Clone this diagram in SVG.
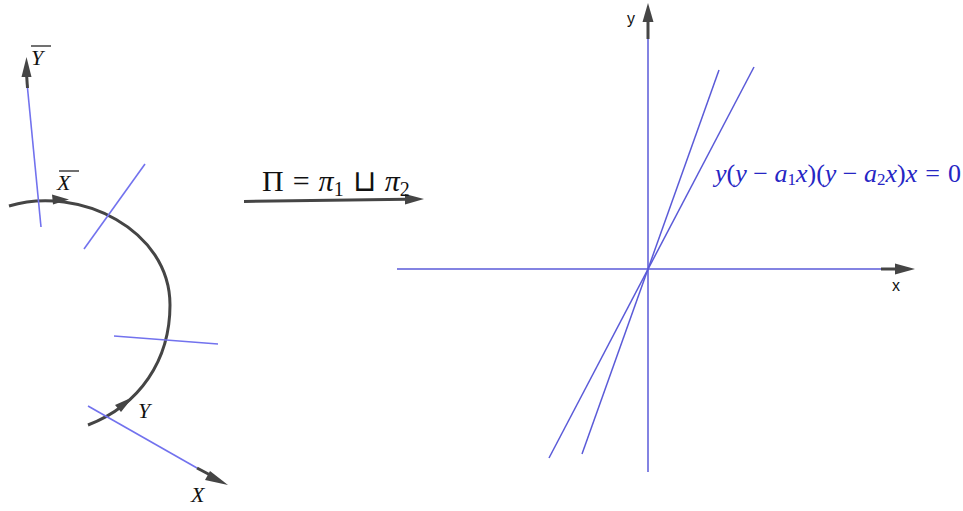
<svg xmlns="http://www.w3.org/2000/svg" width="963" height="511" viewBox="0 0 963 511">
<style>
.bl{stroke:#7272ee;stroke-width:1.6;fill:none}
.bl2{stroke:#5a5ad8;stroke-width:1.5;fill:none}
.dk{stroke:#454545;stroke-width:3;fill:none;stroke-linecap:butt}
.hd{fill:#454545}
.m{font-family:"Liberation Serif","Times New Roman",serif;font-style:italic;fill:#111}
.r{font-style:normal}
.ax{font-family:"Liberation Sans",Arial,sans-serif;font-size:16px;fill:#111}
.eq{font-family:"Liberation Serif","Times New Roman",serif;font-size:26px;fill:#2626c4}
</style>
<rect width="963" height="511" fill="#fff"/>
<g id="connectors">
<path class="dk" d="M9,206 C80,185 170,230 170,305 C170,360 140,405 88,425"/>
<path class="hd" d="M69,199.5 L52,194.5 L53,204.5 Z"/>
<path class="hd" d="M133,397 L115,405 L121,412 Z"/>
<path class="dk" d="M244,201.5 L407,199.3"/>
<path class="hd" d="M424,199 L405,194 L405,204.5 Z"/>
</g>
<g id="left-lines">
<line class="bl" x1="41" y1="227" x2="27.5" y2="88"/>
<path class="dk" d="M27.5,88 L26.5,74"/>
<path class="hd" d="M26.5,57 L21.5,77 L31.5,77 Z"/>
<line class="bl" x1="145" y1="164" x2="84" y2="249"/>
<line class="bl" x1="114" y1="336" x2="218" y2="344"/>
<line class="bl" x1="88" y1="406" x2="197" y2="468"/>
<path class="dk" d="M197,468 L213,476.5"/>
<path class="hd" d="M228,485 L210,471 L205,480 Z"/>
</g>
<g id="left-labels">
<text class="m" x="31" y="65" font-size="22">Y</text>
<line x1="31" y1="46" x2="51" y2="46" stroke="#111" stroke-width="1.2"/>
<text class="m" x="57" y="190" font-size="22">X</text>
<line x1="59" y1="171" x2="79" y2="171" stroke="#111" stroke-width="1.2"/>
<text class="m" x="138" y="418" font-size="22">Y</text>
<text class="m" x="191" y="502" font-size="22">X</text>
</g>
<g id="map-label">
<text class="m" x="262" y="191" font-size="30"><tspan class="r">Π</tspan><tspan class="r" dx="9">=</tspan><tspan dx="9">π</tspan><tspan class="r" font-size="20" dy="5">1</tspan><tspan class="r" dy="-5" dx="9">⊔</tspan><tspan dx="9">π</tspan><tspan class="r" font-size="20" dy="5">2</tspan></text>
</g>
<g id="axes">
<line class="bl2" x1="397" y1="269" x2="882" y2="269"/>
<path class="dk" d="M881,269 L897,269"/>
<path class="hd" d="M915,269 L895,263.5 L895,274.5 Z"/>
<line class="bl2" x1="648" y1="472" x2="648" y2="38"/>
<path class="dk" d="M648,39 L648,20"/>
<path class="hd" d="M648,3 L642.5,22 L653.5,22 Z"/>
<text class="ax" x="627" y="24">y</text>
<text class="ax" x="892" y="291">x</text>
</g>
<g id="lines">
<line class="bl2" x1="719" y1="70" x2="582" y2="454"/>
<line class="bl2" x1="754" y1="67" x2="549" y2="458"/>
</g>
<g id="equation">
<text class="eq" x="715" y="182"><tspan font-style="italic">y</tspan>(<tspan font-style="italic">y</tspan><tspan dx="6.5">−</tspan><tspan font-style="italic" dx="6.5">a</tspan><tspan font-size="17" dy="3">1</tspan><tspan font-style="italic" dy="-3">x</tspan>)(<tspan font-style="italic">y</tspan><tspan dx="6.5">−</tspan><tspan font-style="italic" dx="6.5">a</tspan><tspan font-size="17" dy="3">2</tspan><tspan font-style="italic" dy="-3">x</tspan>)<tspan font-style="italic">x</tspan><tspan dx="8">=</tspan><tspan dx="8">0</tspan></text>
</g>
</svg>
